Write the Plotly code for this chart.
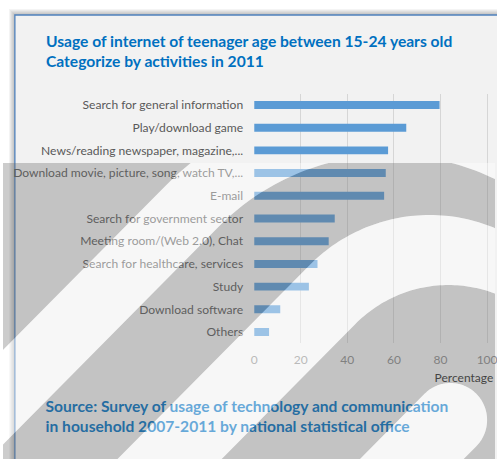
import math
import plotly.graph_objects as go

W, H = 497, 459

# ---- data -------------------------------------------------------------
categories = [
    "Search for general information",
    "Play/download game",
    "News/reading newspaper, magazine,...",
    "Download movie, picture, song, watch TV,...",
    "E-mail",
    "Search for government sector",
    "Meeting room/(Web 2.0), Chat",
    "Search for healthcare, services",
    "Study",
    "Download software",
    "Others",
]
usage_pct = [79.6, 65.3, 57.5, 56.5, 55.8, 34.6, 32.0, 27.2, 23.5, 11.2, 6.4]
x_ticks = [0, 20, 40, 60, 80, 100]

title_lines = [
    "Usage of internet of teenager age between 15-24 years old",
    "Categorize by activities in 2011",
]
source_lines = [
    "Source: Survey of usage of technology and communication",
    "in household 2007-2011 by national statistical office",
]
axis_title = "Percentage"

# ---- styling ----------------------------------------------------------
FONT = "Lato"
BLUE = "#0070c0"
BAR = "#5b9bd5"
LABEL = "#595959"

# plot area in pixels
PX_LEFT, PX_TOP, PX_BOTTOM = 253.7, 93.6, 343.4
PX_PER_UNIT = (489.0 - 253.7) / 100.0
x_max = (W - PX_LEFT) / PX_PER_UNIT


def px(x):
    return x / W


def py(y):
    return 1 - y / H


fig = go.Figure()

fig.add_trace(go.Bar(
    x=usage_pct, y=categories, orientation="h",
    marker=dict(color=BAR, line=dict(width=0)),
    width=0.35, hoverinfo="skip", xaxis="x", yaxis="y",
))

# text that sits underneath the watermark overlay (pixel-space axes)
fig.add_trace(go.Scatter(
    x=[43, 43], y=[408, 428], text=source_lines, mode="text",
    textposition="middle right",
    textfont=dict(family=FONT, size=15.6, color=BLUE, weight="bold"),
    xaxis="x2", yaxis="y2", hoverinfo="skip", showlegend=False,
    cliponaxis=False,
))
fig.add_trace(go.Scatter(
    x=[436], y=[379], text=[axis_title], mode="text",
    textposition="middle right",
    textfont=dict(family=FONT, size=12, color="#303030"),
    xaxis="x2", yaxis="y2", hoverinfo="skip", showlegend=False,
    cliponaxis=False,
))


# ---- watermark geometry (pixel space) ---------------------------------
def hairpin(cx, cy, r, n=140, far=900):
    c = math.sqrt(0.5)
    tl = (cx - r * c, cy - r * c)
    tr = (cx + r * c, cy + r * c)
    pts = [(tl[0] - far, tl[1] + far)]
    for i in range(n + 1):
        th = math.radians(225 + 180 * i / n)
        pts.append((cx + r * math.cos(th), cy + r * math.sin(th)))
    pts.append((tr[0] - far, tr[1] + far))
    return pts


def clip_below(poly, y0):
    out = []
    n = len(poly)
    for i in range(n):
        a, b = poly[i], poly[(i + 1) % n]
        ina, inb = a[1] >= y0, b[1] >= y0
        if ina:
            out.append(a)
        if ina != inb:
            t = (y0 - a[1]) / (b[1] - a[1])
            out.append((a[0] + t * (b[0] - a[0]), y0))
    return out


def to_path(polys):
    parts = []
    for p in polys:
        if len(p) < 3:
            continue
        s = "M" + " L".join(f"{x:.2f},{y:.2f}" for x, y in p) + " Z"
        parts.append(s)
    return " ".join(parts)


TOP = 163
bands = [hairpin(380, 400, 304), hairpin(391, 400, 245), hairpin(431, 387, 172),
         hairpin(450, 418, 133), hairpin(452, 420, 37)]
bands = [clip_below(b, TOP) for b in bands]
rect = [(-20, TOP), (W + 20, TOP), (W + 20, H + 20), (-20, H + 20)]

shapes = []
# frame shadow + frame
for k in range(6, 0, -1):
    shapes.append(dict(type="rect", xref="paper", yref="paper", layer="below",
                       x0=px(12 - k), y0=py(H + 30), x1=px(W + 30), y1=py(15 - k),
                       fillcolor="rgba(0,0,0,0.045)", line=dict(width=0)))
shapes.append(dict(type="rect", xref="paper", yref="paper", layer="below",
                   x0=px(12), y0=py(H + 30), x1=px(W + 30), y1=py(15),
                   fillcolor="#f2f2f2", line=dict(color="#4f81bd", width=1.3)))
# watermark: grey strokes and white gaps
shapes.append(dict(type="path", xref="x2", yref="y2", layer="above",
                   path=to_path([rect] + bands), fillrule="evenodd",
                   fillcolor="rgba(105,105,105,0.34)", line=dict(width=0)))
shapes.append(dict(type="path", xref="x2", yref="y2", layer="above",
                   path=to_path(bands), fillrule="evenodd",
                   fillcolor="rgba(255,255,255,0.4)", line=dict(width=0)))

annotations = []
for i, line in enumerate(title_lines):
    annotations.append(dict(
        x=px(41), y=py(41 + 20 * i), xref="paper", yref="paper",
        xanchor="left", yanchor="middle", showarrow=False, text=line,
        font=dict(family=FONT, size=15.6, color=BLUE, weight="bold"),
    ))

fig.update_layout(
    width=W, height=H, margin=dict(l=0, r=0, t=0, b=0),
    paper_bgcolor="white", plot_bgcolor="rgba(0,0,0,0)",
    showlegend=False, bargap=0.65,
    font=dict(family=FONT, color=LABEL),
    xaxis=dict(domain=[px(PX_LEFT), 1], range=[0, x_max], tickvals=x_ticks,
               showgrid=True, gridcolor="#d6d6d6", gridwidth=1, zeroline=False,
               showline=False, ticks="", ticklabelstandoff=8,
               ticklabeloverflow="allow",
               tickfont=dict(family=FONT, size=12, color="#8c8c8c"),
               fixedrange=True, anchor="y"),
    yaxis=dict(domain=[py(PX_BOTTOM), py(PX_TOP)], type="category",
               categoryorder="array", categoryarray=categories,
               range=[len(categories) - 0.5, -0.5], showgrid=False,
               zeroline=False, showline=False, ticks="", ticklabelstandoff=10,
               tickfont=dict(family=FONT, size=12.1, color=LABEL),
               fixedrange=True, anchor="x"),
    xaxis2=dict(domain=[0, 1], range=[0, W], visible=False, fixedrange=True,
                anchor="y2"),
    yaxis2=dict(domain=[0, 1], range=[H, 0], visible=False, fixedrange=True,
                anchor="x2"),
    shapes=shapes, annotations=annotations,
)

fig.write_html("out.html")
